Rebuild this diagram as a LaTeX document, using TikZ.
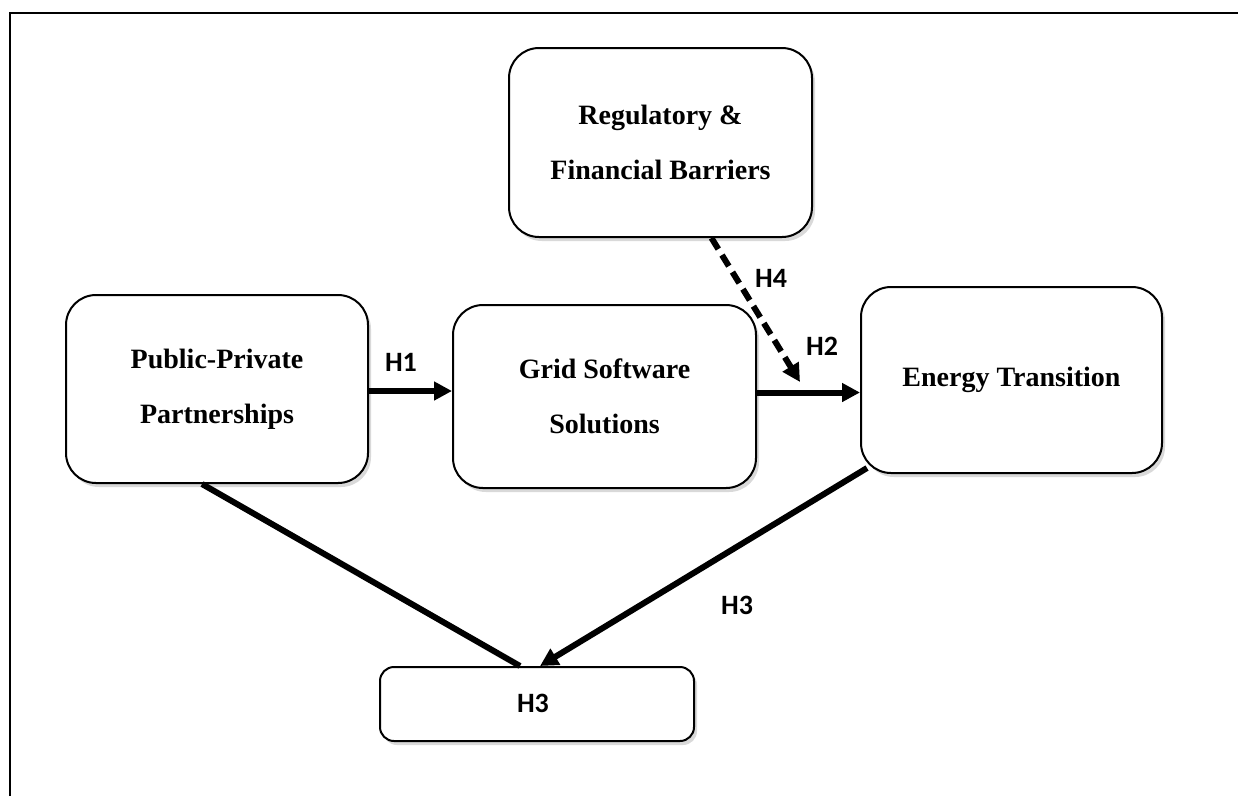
\documentclass[tikz,border=0pt]{standalone}
\usepackage{fontspec}
\setmainfont{Liberation Serif}
\newfontfamily\lblfont{Carlito}
\usetikzlibrary{arrows.meta,shadows}
\begin{document}
\begin{tikzpicture}[x=1pt,y=-1pt,
  box/.style={draw=black,line width=2pt,rounded corners=30pt,fill=white,
    drop shadow={shadow xshift=3pt,shadow yshift=-4pt,opacity=0.3,fill=black!50},
    align=center,font=\fontsize{28}{55}\selectfont\bfseries,inner sep=0pt},
  lbl/.style={font=\lblfont\fontsize{28}{32}\selectfont\bfseries,inner sep=0pt},
  conn/.style={line width=6pt},
  arr/.style={conn,-{Triangle[length=18pt,width=18pt]}},
  darr/.style={arr,dash pattern=on 13pt off 7pt}]
\useasboundingbox (0,0) rectangle (1238,796);
\draw[line width=2.5pt] (10,796) -- (10,13) -- (1238,13);

\node[box,minimum width=303pt,minimum height=189pt] (reg) at (660.5,142.5) {Regulatory \&\\Financial Barriers};
\node[box,minimum width=302pt,minimum height=188pt] (ppp) at (217,389) {Public-Private\\Partnerships};
\node[box,minimum width=303pt,minimum height=183pt] (gss) at (604.5,396.5) {Grid Software\\Solutions};
\node[box,minimum width=301pt,minimum height=186pt] (et) at (1011.5,380) {Energy Transition};
\node[box,rounded corners=14pt,minimum width=314pt,minimum height=74pt] (h3) at (537,704) {};
\node[lbl] (h3t) at (533,703) {H3};

\coordinate (p1) at ([yshift=-2pt]ppp.east);
\draw[arr] (p1) -- (p1 -| gss.west);
\draw[arr] ([yshift=4pt]gss.east) -- ([yshift=4pt]gss.east -| et.west);
\coordinate (h4end) at (800,382);
\draw[darr] ([xshift=51pt]reg.south) -- (h4end);
\draw[conn] ([xshift=-15pt]ppp.south) -- ([xshift=-17pt]h3.north);
\draw[arr] ([xshift=7pt,yshift=6pt]et.south west) -- ([xshift=3pt]h3.north);

\node[lbl] (l1) at (401,362) {H1};
\node[lbl] (l2) at (822,346) {H2};
\node[lbl] (l4) at (771,278) {H4};
\node[lbl] (l3) at (737,605) {H3};
\end{tikzpicture}
\end{document}
